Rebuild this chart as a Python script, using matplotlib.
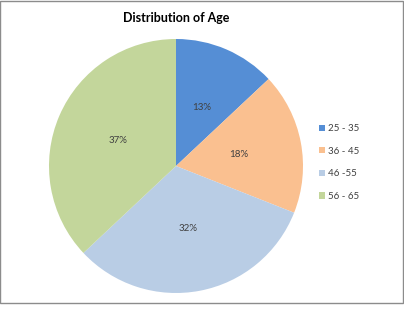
import matplotlib.pyplot as plt
from matplotlib.patches import Rectangle

# Age groups and their share
age_groups = ['25 - 35', '36 - 45', '46 -55', '56 - 65']
shares = [13, 18, 32, 37]
colors = ['#558ED5', '#FAC090', '#B9CDE5', '#C3D69B']

plt.rcParams['font.family'] = ['Lato', 'DejaVu Sans']

fig = plt.figure(figsize=(4.04, 3.09), dpi=100)
ax = fig.add_axes([49 / 404, 16 / 309, 254 / 404, 254 / 309])

wedges, texts, autotexts = ax.pie(
    shares, colors=colors, startangle=90, counterclock=False,
    autopct='%1.0f%%', pctdistance=0.5,
    wedgeprops=dict(linewidth=0),
    textprops=dict(fontsize=7, color='#404040'))
ax.set_xlim(-1, 1)
ax.set_ylim(-1, 1)
ax.set_aspect('equal')

fig.text(176 / 404, 1 - 18 / 309, 'Distribution of Age', ha='center', va='center',
         fontsize=9, fontweight='bold', color='black')

fig.legend(wedges, age_groups, loc='center left', bbox_to_anchor=(310 / 404, 0.474),
           frameon=False, fontsize=7, handlelength=0.6, handleheight=0.6,
           handletextpad=0.4, labelspacing=1.4, labelcolor='#404040')

# outer chart frame
fig.patches.append(Rectangle((0.001, 6 / 309), 0.996, 1 - 6 / 309 - 0.002,
                             transform=fig.transFigure, fill=False,
                             edgecolor='#8c8c8c', linewidth=1))

fig.savefig('out.png', dpi=100)
